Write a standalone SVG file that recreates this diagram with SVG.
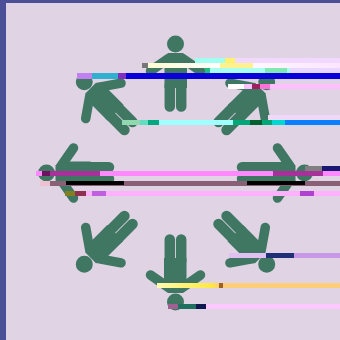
<svg xmlns="http://www.w3.org/2000/svg" width="340" height="340" viewBox="0 0 340 340">
<style>
.s{stroke:#3f7763;fill:none;stroke-linecap:round;stroke-linejoin:round}
.a{stroke-width:9.500}.l{stroke-width:10.500}
.f{fill:#3f7763}
</style>
<defs>
<g id="p">
<circle class="f" cx="175.500" cy="44" r="8.500"/>
<path class="f" d="M168 53H183L187 57V88H164.500V57Z"/>
<path class="s a" d="M168.500 58.500L150.500 71M182.500 58.500L200.500 71"/>
<path class="s l" d="M169.800 85V106.500M181.200 85V106.500"/>
</g>
<linearGradient id="g1" x1="0" x2="1" y1="0" y2="0"><stop offset="0" stop-color="#fffbd0"/><stop offset=".4" stop-color="#fff"/><stop offset="1" stop-color="#fce4ff"/></linearGradient>
<linearGradient id="g3" x1="0" x2="1" y1="0" y2="0"><stop offset="0" stop-color="#fffcb0"/><stop offset=".3" stop-color="#ffe840"/><stop offset=".34" stop-color="#ffce78"/><stop offset="1" stop-color="#ffce78"/></linearGradient>
</defs>
<rect width="340" height="340" fill="#e0d3e3"/>
<rect width="340" height="3" fill="#4a4f98"/>
<rect width="6" height="340" fill="#4a4f98"/>
<g id="fig-0"><use href="#p"/></g>
<g id="fig-1"><use href="#p" transform="rotate(45 175.500 173)"/></g>
<g id="fig-2"><use href="#p" transform="rotate(90 175.500 173)"/></g>
<g id="fig-3"><use href="#p" transform="rotate(135 175.500 173)"/></g>
<g id="fig-4"><use href="#p" transform="rotate(180 175.500 173)"/></g>
<g id="fig-5"><use href="#p" transform="rotate(225 175.500 173)"/></g>
<g id="fig-6"><use href="#p" transform="rotate(270 175.500 173)"/></g>
<g id="fig-7"><use href="#p" transform="rotate(315 175.500 173)"/></g>
<g id="bars">
<rect x="195" y="58" width="145" height="5" fill="#f0d8ff"/>
<rect x="195" y="58" width="30" height="5" fill="#a0fff0"/>
<rect x="225" y="58" width="10" height="5" fill="#fff070"/>
<rect x="142" y="63" width="198" height="5" fill="url(#g1)"/>
<rect x="142" y="63" width="6" height="5" fill="#777"/>
<rect x="220" y="63" width="33" height="5" fill="#fff090"/>
<rect x="205" y="68" width="85" height="5" fill="#a8fff0"/>
<rect x="205" y="68" width="5" height="5" fill="#20c080"/>
<rect x="265" y="68" width="22" height="5" fill="#80e8b0"/>
<rect x="290" y="68" width="50" height="5" fill="#e8d8ff"/>
<rect x="77" y="73" width="263" height="6" fill="#0a00d8"/>
<rect x="77" y="73" width="15" height="6" fill="#c080f0"/>
<rect x="92" y="73" width="26" height="6" fill="#30b0d0"/>
<rect x="118" y="73" width="8" height="6" fill="#8030c0"/>
<rect x="228" y="84" width="112" height="5" fill="#ffc0ff"/>
<rect x="228" y="84" width="16" height="5" fill="#fff"/>
<rect x="252" y="84" width="8" height="5" fill="#a02060"/>
<rect x="260" y="84" width="10" height="5" fill="#ff70d8"/>
<rect x="268" y="115" width="72" height="5" fill="#f0d8f8"/>
<rect x="122" y="120" width="218" height="5" fill="#a0ffff"/>
<rect x="122" y="120" width="18" height="5" fill="#90d8b0"/>
<rect x="140" y="120" width="8" height="5" fill="#60e0c0"/>
<rect x="148" y="120" width="11" height="5" fill="#00a880"/>
<rect x="233" y="120" width="39" height="5" fill="#00a878"/>
<rect x="250" y="120" width="12" height="5" fill="#006030"/>
<rect x="272" y="120" width="13" height="5" fill="#00d8d0"/>
<rect x="285" y="120" width="55" height="5" fill="#0a80ff"/>
<rect x="305" y="166" width="35" height="5" fill="#181870"/>
<rect x="305" y="166" width="17" height="5" fill="#808080"/>
<rect x="36" y="171" width="304" height="5" fill="#ff88ff"/>
<rect x="42" y="171" width="8" height="5" fill="#701060"/>
<rect x="50" y="171" width="50" height="5" fill="#a8309a"/>
<rect x="273" y="171" width="50" height="5" fill="#a8309a"/>
<rect x="40" y="181" width="300" height="5" fill="#8a6076"/>
<rect x="40" y="181" width="10" height="5" fill="#f0c0d0"/>
<rect x="66" y="181" width="58" height="4" fill="#000"/>
<rect x="247" y="181" width="58" height="4" fill="#000"/>
<rect x="65" y="191" width="275" height="5" fill="#ffb0ff"/>
<rect x="65" y="191" width="10" height="5" fill="#808020"/>
<rect x="75" y="191" width="11" height="5" fill="#903050"/>
<rect x="92" y="191" width="14" height="5" fill="#c060e0"/>
<rect x="300" y="191" width="14" height="5" fill="#b040d0"/>
<rect x="229" y="253" width="111" height="5" fill="#c898e8"/>
<rect x="229" y="253" width="37" height="5" fill="#e0c0f0"/>
<rect x="266" y="253" width="28" height="5" fill="#203078"/>
<rect x="157" y="283" width="183" height="5" fill="url(#g3)"/>
<rect x="219" y="283" width="4" height="5" fill="#a06020"/>
<rect x="168" y="304" width="172" height="5" fill="#ffc8ff"/>
<rect x="168" y="304" width="10" height="5" fill="#a06090"/>
<rect x="178" y="304" width="18" height="5" fill="#207060"/>
<rect x="196" y="304" width="10" height="5" fill="#101850"/>
</g>
</svg>
